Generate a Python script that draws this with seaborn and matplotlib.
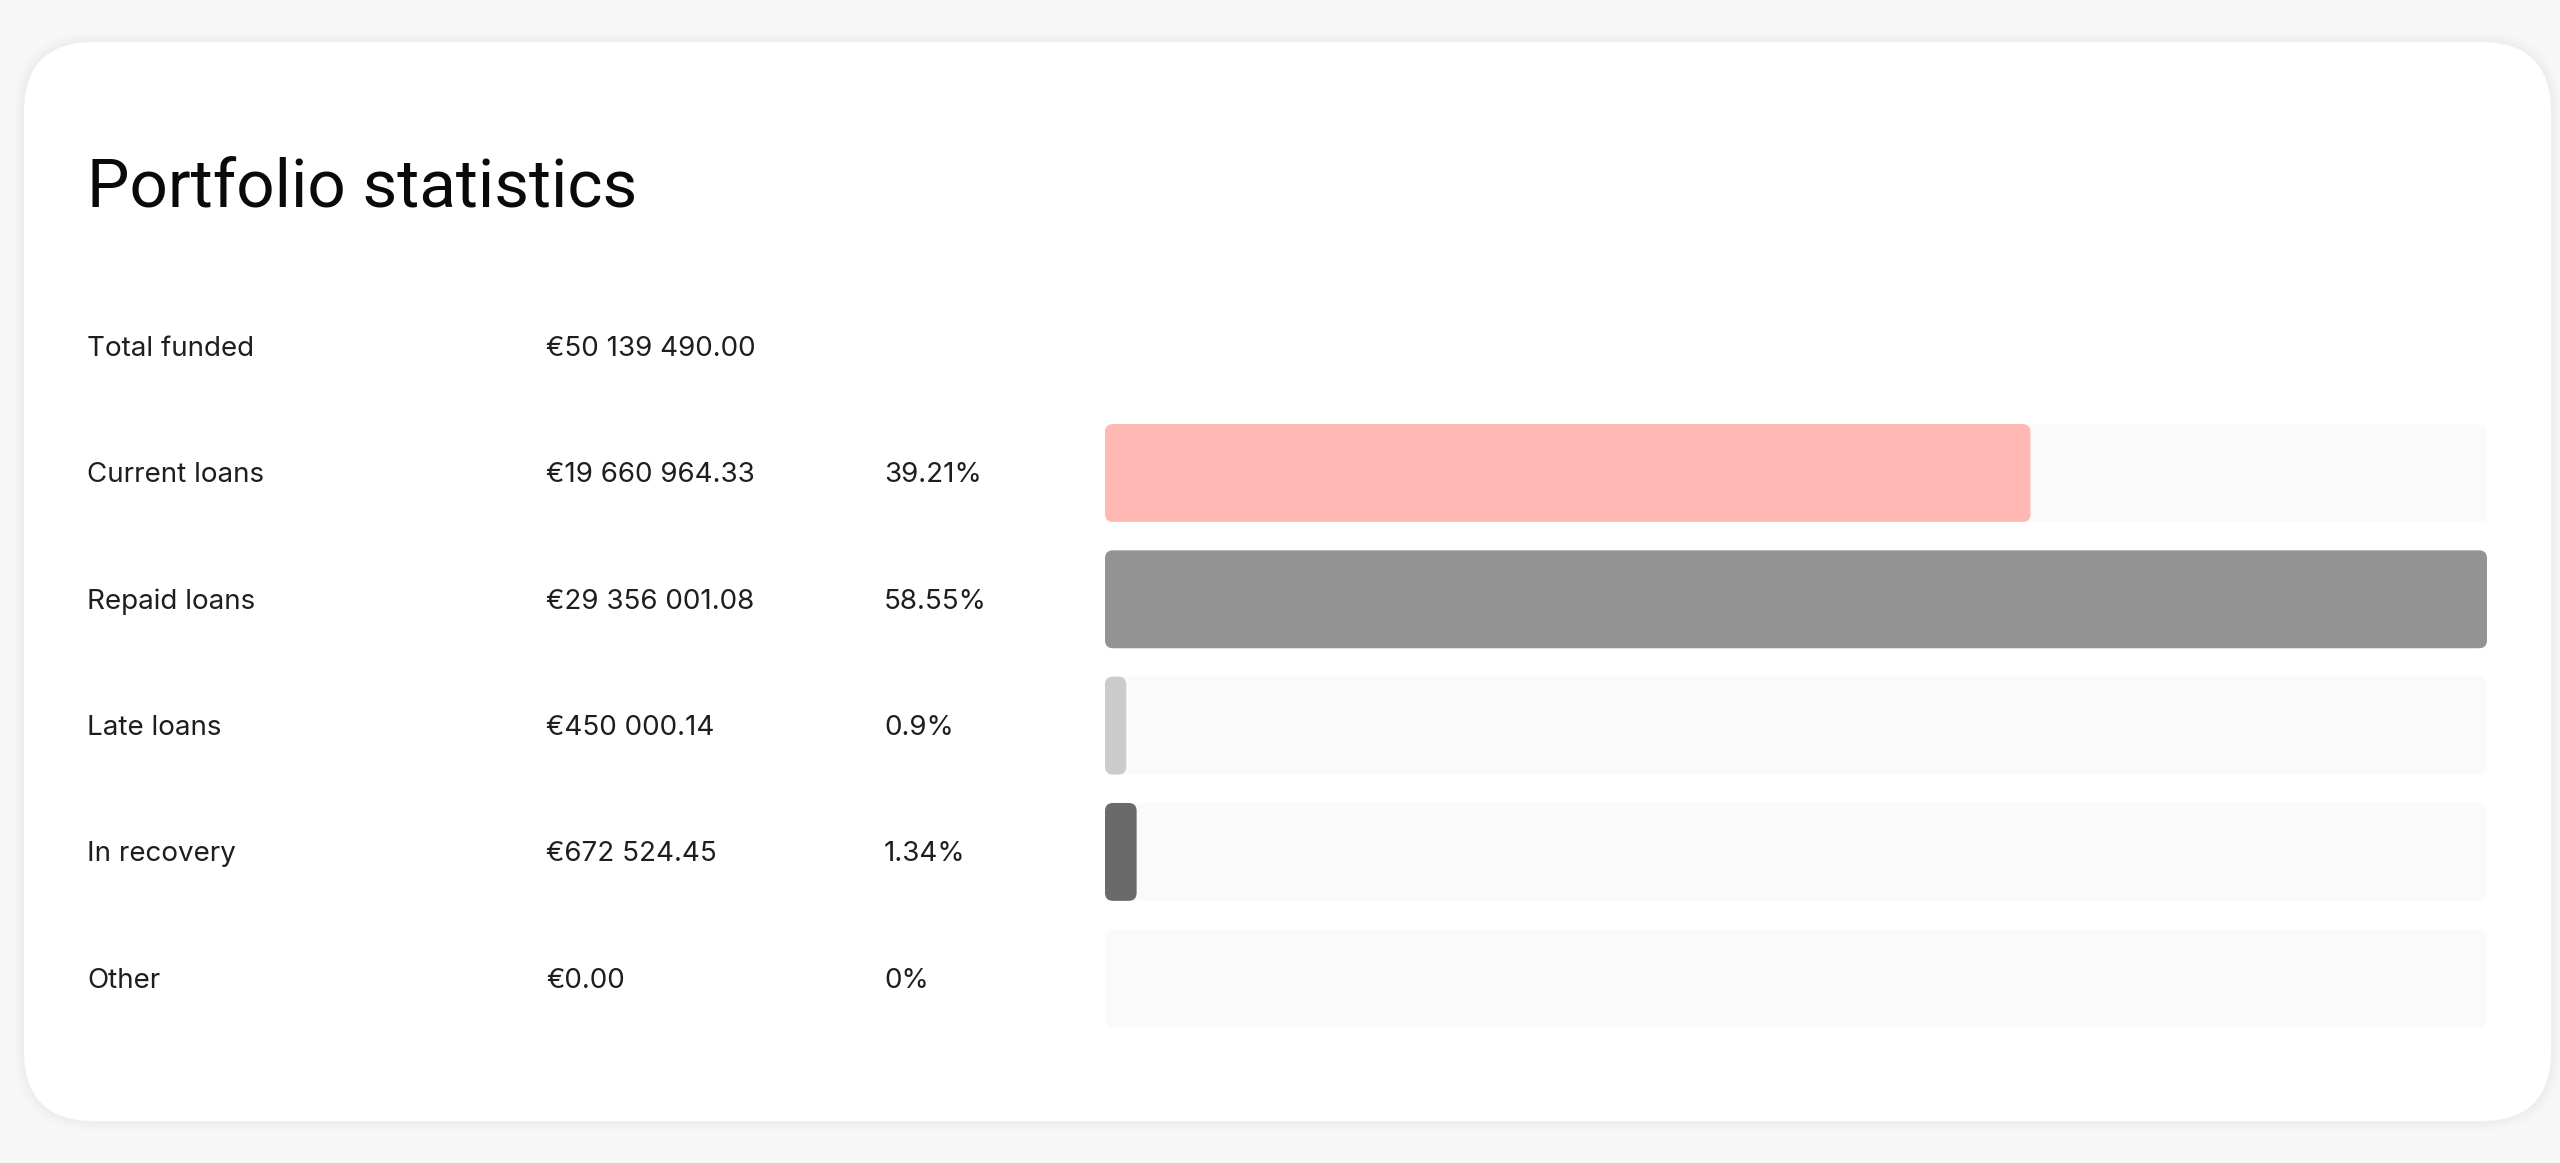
import matplotlib
matplotlib.use("Agg")
import matplotlib.pyplot as plt
from matplotlib.patches import FancyBboxPatch
from matplotlib.transforms import blended_transform_factory, offset_copy
import seaborn as sns

# Portfolio figures
total_label = "Total funded"
total_amount = 50139490.00
categories = ["Current loans", "Repaid loans", "Late loans", "In recovery", "Other"]
amounts = [19660964.33, 29356001.08, 450000.14, 672524.45, 0.00]
shares = [39.21, 58.55, 0.9, 1.34, 0]
bar_colors = ["#FFB8B3", "#939393", "#CBCBCB", "#6A6A6A", "#C8C8C8"]

W, H = 2560, 1163
DPI = 100


def euro(v):
    return "€" + f"{v:,.2f}".replace(",", " ")


def rounded_bars(ax, radius_px):
    # swap seaborn's square bars for rounded ones
    inv = ax.transData.inverted()
    (x0, y0), (x1, y1) = inv.transform([(0, 0), (1, 1)])
    xpx, ypx = abs(x1 - x0), abs(y1 - y0)
    for p in list(ax.patches):
        x, y, w, h = p.get_x(), p.get_y(), p.get_width(), p.get_height()
        fc = p.get_facecolor()
        z = p.get_zorder()
        p.remove()
        if w <= 0:
            continue
        ax.add_patch(FancyBboxPatch(
            (x, y), w, h,
            boxstyle=f"round,pad=0,rounding_size={radius_px * xpx}",
            mutation_aspect=ypx / xpx,
            facecolor=fc, edgecolor="none", zorder=z))


sns.set_theme(style="white")
plt.rcParams["font.family"] = ["Inter", "DejaVu Sans"]

fig = plt.figure(figsize=(W / DPI, H / DPI), dpi=DPI)
fig.patch.set_facecolor("#F7F7F7")

# card with a soft shadow
aspect = W / H
card_x, card_y, card_w, card_h = 24 / W, 1 - 1121 / H, (2551 - 24) / W, (1121 - 42) / H
for i in range(3):
    g = (i + 1) * 3
    fig.patches.append(FancyBboxPatch(
        (card_x - g / W, card_y - g / H), card_w + 2 * g / W, card_h + 2 * g / H,
        boxstyle=f"round,pad=0,rounding_size={(70 + g) / W}", mutation_aspect=aspect,
        transform=fig.transFigure, facecolor="black", alpha=0.012, edgecolor="none", zorder=0))
fig.patches.append(FancyBboxPatch(
    (card_x, card_y), card_w, card_h,
    boxstyle=f"round,pad=0,rounding_size={70 / W}", mutation_aspect=aspect,
    transform=fig.transFigure, facecolor="white", edgecolor="none", zorder=1))

fig.text(87 / W, 1 - 207 / H, "Portfolio statistics", fontsize=48.5, color="#0A0A0A",
         family=["Roboto", "DejaVu Sans"], ha="left", va="baseline", zorder=5)

# bar area
top_px, pitch = 473 - 126.3 / 2, 126.3
ax = fig.add_axes([1105 / W, 1 - (top_px + 5 * pitch) / H, (2487 - 1105) / W, 5 * pitch / H])
ax.set_facecolor("none")
ax.set_zorder(3)

track = [max(shares)] * len(categories)
sns.barplot(x=track, y=categories, orient="h", color="#FAFAFA", width=0.775,
            saturation=1, ax=ax)
sns.barplot(x=shares, y=categories, orient="h", hue=categories,
            palette=dict(zip(categories, bar_colors)), width=0.775, saturation=1,
            legend=False, ax=ax)
ax.set_xlim(0, max(shares))
ax.set_ylim(len(categories) - 0.5, -0.5)
ax.axis("off")
rounded_bars(ax, 8)

# text columns, tied to the bar rows (baseline sits ~9.5px below row centre)
tr = offset_copy(blended_transform_factory(fig.transFigure, ax.transData),
                 fig=fig, y=-9.5, units="dots")
col_label, col_amount, col_share = 87 / W, 546 / W, 884 / W
text_kw = dict(fontsize=20, color="#1E1E1E", va="baseline", transform=tr, clip_on=False)

fig.text(col_label, -1, total_label, **text_kw)
fig.text(col_amount, -1, euro(total_amount), **text_kw)
for i, (cat, amt, sh) in enumerate(zip(categories, amounts, shares)):
    fig.text(col_label, i, cat, **text_kw)
    fig.text(col_amount, i, euro(amt), **text_kw)
    fig.text(col_share, i, f"{sh:g}%", **text_kw)

fig.savefig("out.png", dpi=DPI, facecolor=fig.get_facecolor())
